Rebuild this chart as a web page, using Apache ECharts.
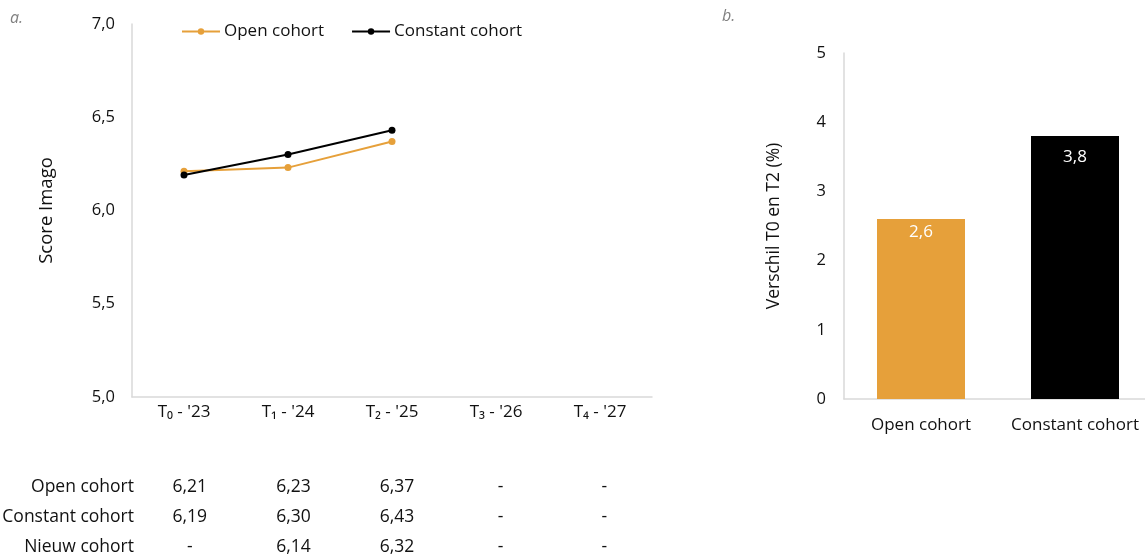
<!DOCTYPE html>
<html>
<head>
<meta charset="utf-8">
<script src="https://cdn.jsdelivr.net/npm/echarts@6/dist/echarts.min.js"></script>
<style>
  html, body { margin: 0; padding: 0; background: #fff; }
  #chart { width: 1145px; height: 559px; }
</style>
</head>
<body>
<div id="chart"></div>
<script>
// Measurement moments
const periods = ['T\u2080 - \'23', 'T\u2081 - \'24', 'T\u2082 - \'25', 'T\u2083 - \'26', 'T\u2084 - \'27'];
// Mean image score per cohort (null = no measurement yet)
const openCohort = [6.21, 6.23, 6.37, null, null];
const constantCohort = [6.19, 6.30, 6.43, null, null];
const nieuwCohort = [null, 6.14, 6.32, null, null];
const tableRows = ['Open cohort', 'Constant cohort', 'Nieuw cohort'];
// Change between T0 and T2 (%)
const barCategories = ['Open cohort', 'Constant cohort'];
const barValues = [2.6, 3.8];

const ORANGE = '#E6A03A';
const FONT = '"Open Sans", "Noto Sans", sans-serif';
const TXT = '#111';
const AXIS = '#d9d9d9';
// per-bar styling
const barColors = [ORANGE, '#000'];
const barLabelGap = [5, 13];

const comma = (v, d) => v.toFixed(d).replace('.', ',');

// Table cells: [column, row, text]
const tableData = [];
[openCohort, constantCohort, nieuwCohort].forEach((arr, r) => {
  arr.forEach((v, c) => tableData.push([c, r, v == null ? '-' : comma(v, 2)]));
});

const chart = echarts.init(document.getElementById('chart'), null, { renderer: 'canvas' });
chart.setOption({
  backgroundColor: '#fff',
  animation: false,
  textStyle: { fontFamily: FONT, color: TXT },
  graphic: [
    { type: 'text', left: 10, top: 10, style: { text: 'a.', font: 'italic 16px ' + FONT, fill: '#808080' } },
    { type: 'text', left: 722, top: 8, style: { text: 'b.', font: 'italic 16px ' + FONT, fill: '#808080' } }
  ],
  legend: {
    left: 176, top: 18,
    itemWidth: 38, itemHeight: 8, itemGap: 27,
    textStyle: { fontFamily: FONT, fontSize: 17, color: TXT, padding: [0, 0, 0, -1] },
    data: ['Open cohort', 'Constant cohort']
  },
  grid: [
    { left: 132, width: 520, top: 24, height: 373, outerBoundsMode: 'none' },
    { left: 844, width: 308, top: 53, height: 346, outerBoundsMode: 'none' },
    { left: 138, width: 518, top: 472, height: 90, outerBoundsMode: 'none' }
  ],
  xAxis: [
    {
      gridIndex: 0, type: 'category', data: periods,
      axisLine: { lineStyle: { color: AXIS, width: 1.5 } },
      axisTick: { show: false },
      axisLabel: { fontFamily: FONT, fontSize: 17, color: TXT, margin: 7, interval: 0 }
    },
    {
      gridIndex: 1, type: 'category', data: barCategories,
      axisLine: { lineStyle: { color: AXIS, width: 1.5 } },
      axisTick: { show: false },
      axisLabel: { fontFamily: FONT, fontSize: 17, color: TXT, margin: 18, interval: 0, hideOverlap: false }
    },
    {
      gridIndex: 2, type: 'category', data: periods, show: false
    }
  ],
  yAxis: [
    {
      gridIndex: 0, type: 'value', min: 5, max: 7, interval: 0.5,
      name: 'Score Imago', nameLocation: 'middle', nameRotate: 90, nameGap: 76,
      nameTextStyle: { fontFamily: FONT, fontSize: 18.5, color: TXT },
      axisLine: { show: true, lineStyle: { color: AXIS, width: 1.5 } },
      axisTick: { show: false },
      splitLine: { show: false },
      axisLabel: { fontFamily: FONT, fontSize: 16.5, color: TXT, margin: 17, formatter: v => comma(v, 1) }
    },
    {
      gridIndex: 1, type: 'value', min: 0, max: 5, interval: 1,
      name: 'Verschil T0 en T2 (%)', nameLocation: 'middle', nameRotate: 90, nameGap: 61,
      nameTextStyle: { fontFamily: FONT, fontSize: 17.5, color: TXT },
      axisLine: { show: true, lineStyle: { color: AXIS, width: 1.5 } },
      axisTick: { show: false },
      splitLine: { show: false },
      axisLabel: { fontFamily: FONT, fontSize: 16.5, color: TXT, margin: 18 }
    },
    {
      gridIndex: 2, type: 'category', data: tableRows, inverse: true,
      axisLine: { show: false }, axisTick: { show: false }, splitLine: { show: false },
      axisLabel: { fontFamily: FONT, fontSize: 17.5, color: TXT, margin: 4 }
    }
  ],
  series: [
    {
      name: 'Open cohort', type: 'line', xAxisIndex: 0, yAxisIndex: 0,
      data: openCohort, color: ORANGE,
      symbol: 'circle', symbolSize: 7,
      lineStyle: { width: 2, color: ORANGE },
      itemStyle: { color: ORANGE }
    },
    {
      name: 'Constant cohort', type: 'line', xAxisIndex: 0, yAxisIndex: 0,
      data: constantCohort, color: '#000',
      symbol: 'circle', symbolSize: 7,
      lineStyle: { width: 2, color: '#000' },
      itemStyle: { color: '#000' }
    },
    {
      name: 'Verschil', type: 'bar', xAxisIndex: 1, yAxisIndex: 1,
      barWidth: 88,
      data: barValues.map((v, i) => ({
        value: v,
        itemStyle: { color: barColors[i] },
        label: { distance: barLabelGap[i] }
      })),
      label: {
        show: true, position: 'insideTop',
        fontFamily: FONT, fontSize: 17, color: '#fff', textBorderWidth: 0,
        formatter: p => comma(p.value, 1)
      }
    },
    {
      name: 'tabel', type: 'scatter', xAxisIndex: 2, yAxisIndex: 2,
      symbolSize: 0, silent: true,
      itemStyle: { color: TXT, opacity: 0 },
      data: tableData,
      label: {
        show: true, position: 'inside',
        fontFamily: FONT, fontSize: 17.5, color: TXT,
        textBorderWidth: 0, opacity: 1,
        formatter: p => p.value[2]
      }
    }
  ]
});
</script>
</body>
</html>
